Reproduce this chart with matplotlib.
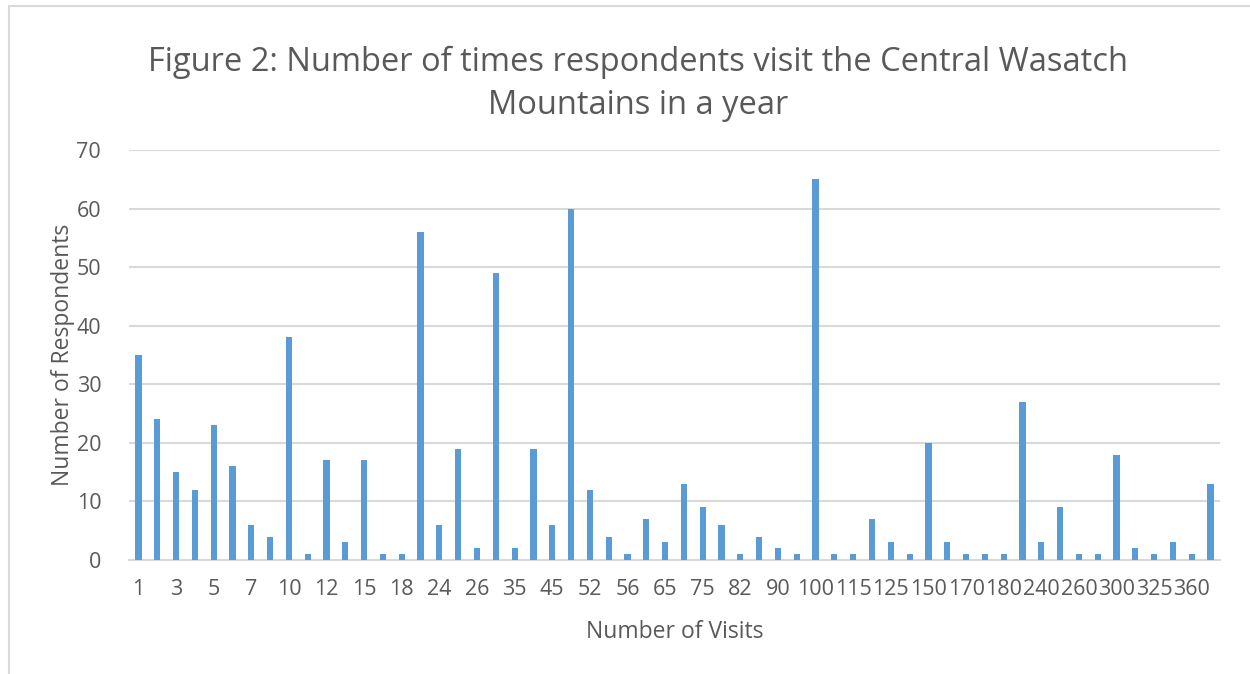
import matplotlib
matplotlib.use("Agg")
import matplotlib.pyplot as plt
from matplotlib.patches import Rectangle
import numpy as np

categories = ["1", "2", "3", "4", "5", "6", "7", "8", "10", "11",
              "12", "14", "15", "16", "18", "20", "24", "25", "26", "30",
              "35", "40", "45", "50", "52", "54", "56", "60", "65", "70",
              "75", "80", "82", "85", "90", "95", "100", "110", "115", "120",
              "125", "130", "150", "160", "170", "175", "180", "200", "240", "250",
              "260", "270", "300", "312", "325", "350", "360", "365"]
respondents = [35, 24, 15, 12, 23, 16, 6, 4, 38, 1,
               17, 3, 17, 1, 1, 56, 6, 19, 2, 49,
               2, 19, 6, 60, 12, 4, 1, 7, 3, 13,
               9, 6, 1, 4, 2, 1, 65, 1, 1, 7,
               3, 1, 20, 3, 1, 1, 1, 27, 3, 9,
               1, 1, 18, 2, 1, 3, 1, 13]
yticks = [0, 10, 20, 30, 40, 50, 60, 70]

title = "Figure 2: Number of times respondents visit the Central Wasatch\nMountains in a year"
xlabel = "Number of Visits"
ylabel = "Number of Respondents"

plt.rcParams['font.family'] = ['Open Sans', 'DejaVu Sans']
txt = '#595959'
grid = '#D9D9D9'
bar_c = '#5B9BD5'

W, H = 1250, 674
fig = plt.figure(figsize=(W / 100, H / 100), dpi=100)
fig.patch.set_facecolor('white')

# outer chart border (partially visible)
fig.add_artist(Rectangle((9 / W, -0.1), 1.2, 1 - 6 / H + 0.1, transform=fig.transFigure,
                         fill=False, edgecolor=grid, linewidth=1.5))

ax = fig.add_axes([129 / W, 1 - 560 / H, (1220 - 129) / W, (560 - 150) / H])
x = np.arange(len(categories))
ax.bar(x, respondents, width=0.33, color=bar_c, zorder=3)
ax.set_xlim(-0.5, len(categories) - 0.5)
ax.set_ylim(0, 70)
ax.set_yticks(yticks)
ax.set_yticklabels([str(v) for v in yticks], fontsize=15.5, color=txt)
ax.set_xticks(x[::2])
ax.set_xticklabels(categories[::2], fontsize=15.5, color=txt)
ax.tick_params(axis='both', length=0)
ax.tick_params(axis='y', pad=20)
ax.tick_params(axis='x', pad=14)
ax.grid(axis='y', color=grid, linewidth=1.5, zorder=0)
for s in ['top', 'right', 'left']:
    ax.spines[s].set_visible(False)
ax.spines['bottom'].set_color(grid)
ax.spines['bottom'].set_linewidth(1.5)

ax.set_xlabel(xlabel, fontsize=16.5, color=txt, labelpad=14)
ax.set_ylabel(ylabel, fontsize=16.5, color=txt, labelpad=1)

fig.text(638 / W, 1 - 84 / H, title, ha='center', va='center', fontsize=23.5,
         color=txt, linespacing=1.42)

fig.savefig('out.png', dpi=100)
